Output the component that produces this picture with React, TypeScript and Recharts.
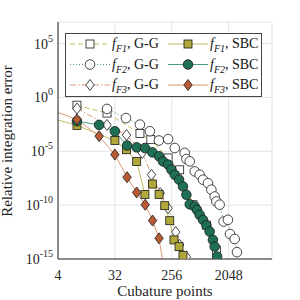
import { LineChart, Line, XAxis, YAxis, CartesianGrid, Legend } from 'recharts';

// cubature points / relative error
const ggF1N = [8, 24, 80, 119, 224, 342, 557, 910, 1308];
const ggF1Err = [1.9e-1, 3.5e-2, 4.4e-4, 1.2e-4, 2.4e-6, 1.9e-7, 1.1e-10, 1.4e-12, 6.8e-15];

const ggF2N = [24, 48, 80, 115, 160, 224, 286, 411, 437, 494, 593, 710, 803, 962, 1090, 1229, 1308, 1474, 1706, 1997, 2150, 2554, 2779];
const ggF2Err = [8.5e-2, 1.2e-2, 3.0e-3, 7.2e-4, 1.0e-4, 1.35e-4, 2.0e-5, 7.1e-6, 1.9e-6, 1.15e-6, 1.35e-7, 6.6e-8, 2.3e-8, 1.1e-8, 2.7e-9, 6.3e-10, 2.2e-10, 1.1e-10, 3.0e-12, 4.3e-12, 2.1e-13, 7.2e-14, 4.3e-15];

const ggF3N = [8, 24, 49, 87, 122, 168, 224, 296, 342, 437];
const ggF3Err = [9.3e-2, 2.8e-3, 3.2e-4, 7.1e-6, 6.6e-8, 1.3e-9, 5.2e-11, 3.2e-13, 2.0e-14, 1.6e-15];

const sbcF1N = [2, 8, 32, 49, 71, 96, 126, 161, 198, 238, 278, 334, 386];
const sbcF1Err = [2.5e-2, 2.5e-3, 9.8e-5, 1.4e-5, 1.1e-6, 1.0e-9, 9.1e-9, 1.0e-9, 8.9e-11, 3.6e-12, 5.9e-14, 1.4e-14, 2.2e-15];

const sbcF2N = [8, 18, 32, 50, 71, 96, 126, 161, 186, 224, 253, 286, 334, 386, 437, 494, 593, 644, 710, 803, 910, 1024, 1153, 1229, 1345];
const sbcF2Err = [6.2e-3, 2.8e-3, 7.2e-4, 3.4e-5, 2.3e-5, 2.0e-5, 7.9e-6, 3.4e-6, 1.15e-6, 5.8e-7, 1.95e-7, 6.6e-8, 2.3e-8, 5.4e-9, 9.1e-10, 1.2e-10, 7.4e-11, 3.6e-11, 1.26e-11, 4.3e-12, 1.3e-12, 3.5e-13, 5.9e-14, 1.4e-14, 1.7e-15];

const sbcF3N = [2, 8, 18, 32, 50, 71, 97, 127, 161, 198];
const sbcF3Err = [1.8e-1, 8.9e-3, 2.5e-4, 4.9e-6, 3.9e-8, 1.5e-9, 1.1e-10, 3.7e-12, 8.3e-14, 5e-17];

const xTicks = [4, 32, 256, 2048];
const yTicks = [1e-15, 1e-10, 1e-5, 1, 1e5];

const zip = (n: number[], e: number[]) => n.map((v, i) => ({ n: v, err: e[i] }));

const SERIF = '"Liberation Serif", "DejaVu Serif", serif';
const INK = '#262626';

const C1 = '#c4bd62';
const C2 = '#4a9a84';
const C3 = '#dc9a76';

type Kind = 'square' | 'circle' | 'diamond';

const marker = (kind: Kind, cx: number, cy: number, fill: string, key?: string | number) => {
  const common = { fill, stroke: '#1a1a1a', strokeWidth: 0.8 };
  if (kind === 'square') return <rect key={key} x={cx - 4} y={cy - 4} width={8} height={8} {...common} />;
  if (kind === 'circle') return <circle key={key} cx={cx} cy={cy} r={4.8} {...common} />;
  return <path key={key} d={`M${cx},${cy - 5.5}L${cx + 4.2},${cy}L${cx},${cy + 5.5}L${cx - 4.2},${cy}Z`} {...common} />;
};

const series = [
  { id: 'ggF1', data: zip(ggF1N, ggF1Err), color: C1, dash: '5 3', kind: 'square' as Kind, fill: '#ffffff', sub: 'F1', tag: 'G-G' },
  { id: 'ggF2', data: zip(ggF2N, ggF2Err), color: C2, dash: '1 2', kind: 'circle' as Kind, fill: '#ffffff', sub: 'F2', tag: 'G-G' },
  { id: 'ggF3', data: zip(ggF3N, ggF3Err), color: C3, dash: '6 2 1.5 2', kind: 'diamond' as Kind, fill: '#ffffff', sub: 'F3', tag: 'G-G' },
  { id: 'sbcF1', data: zip(sbcF1N, sbcF1Err), color: C1, dash: undefined, kind: 'square' as Kind, fill: '#b0a83a', sub: 'F1', tag: 'SBC' },
  { id: 'sbcF2', data: zip(sbcF2N, sbcF2Err), color: C2, dash: undefined, kind: 'circle' as Kind, fill: '#1f6f56', sub: 'F2', tag: 'SBC' },
  { id: 'sbcF3', data: zip(sbcF3N, sbcF3Err), color: C3, dash: undefined, kind: 'diamond' as Kind, fill: '#b95b32', sub: 'F3', tag: 'SBC' },
];

const YTick = ({ y, payload }: any) => {
  const exp = Math.round(Math.log10(payload.value));
  return (
    <text x={53} y={y + 5} textAnchor="end" fontFamily={SERIF} fontSize={14} fill={INK}>
      10<tspan dy={-7} fontSize={10}>{exp}</tspan>
    </text>
  );
};

const XTick = ({ x, payload }: any) => (
  <text x={x} y={280} textAnchor="middle" fontFamily={SERIF} fontSize={14} fill={INK}>
    {payload.value}
  </text>
);

const LegendBox = () => (
  <svg width={197} height={64} style={{ display: 'block' }}>
    <rect x={0.5} y={0.5} width={196} height={63} fill="#fff" stroke="#444" strokeWidth={1} />
    {series.map((s, i) => {
      const col = i < 3 ? 0 : 1;
      const row = i % 3;
      const cy = 11 + row * 20.5;
      const x0 = col === 0 ? 5 : 103;
      return (
        <g key={s.id}>
          <line x1={x0} x2={x0 + 40} y1={cy} y2={cy} stroke={s.color} strokeWidth={1.2} strokeDasharray={s.dash} />
          {marker(s.kind, x0 + 20, cy, s.fill)}
          <text x={x0 + 42} y={cy + 4} fontFamily={SERIF} fontSize={14} fill="#111">
            <tspan fontStyle="italic">f</tspan>
            <tspan fontStyle="italic" fontSize={10} dy={4}>{s.sub}</tspan>
            <tspan dy={-4}>, {s.tag}</tspan>
          </text>
        </g>
      );
    })}
  </svg>
);

export default function App() {
  return (
    <div style={{ position: 'absolute', left: 0, top: 0, width: 300, height: 300, background: '#fff' }}>
      <LineChart width={300} height={300} margin={{ top: 22, right: 28, left: 8, bottom: 0 }}>
        <CartesianGrid stroke="#e3e3e3" strokeWidth={1} />
        <XAxis
          dataKey="n"
          type="number"
          scale="log"
          domain={[4, 10000]}
          allowDataOverflow
          ticks={xTicks}
          height={41}
          tick={<XTick />}
          tickLine={false}
          stroke={INK}
          label={{
            content: () => (
              <text x={165} y={296} textAnchor="middle" fontFamily={SERIF} fontSize={15} fill={INK}>
                Cubature points
              </text>
            ),
          }}
        />
        <YAxis
          dataKey="err"
          type="number"
          scale="log"
          domain={[1e-15, 1e7]}
          allowDataOverflow
          ticks={yTicks}
          width={50}
          tick={<YTick />}
          tickLine={false}
          stroke={INK}
          label={{
            content: () => (
              <text x={12} y={141} transform="rotate(-90 12 141)" textAnchor="middle" fontFamily={SERIF} fontSize={15} fill={INK}>
                Relative integration error
              </text>
            ),
          }}
        />
        <Legend
          layout="horizontal"
          verticalAlign="middle"
          align="center"
          content={() => <LegendBox />}
          wrapperStyle={{ left: 65, top: 33, width: 197, height: 64 }}
        />
        {series.map((s) => (
          <Line
            key={s.id}
            data={s.data}
            dataKey="err"
            stroke={s.color}
            strokeWidth={1}
            strokeDasharray={s.dash}
            isAnimationActive={false}
            legendType="none"
            dot={(p: any) => marker(s.kind, p.cx, p.cy, s.fill, `${s.id}-${p.index}`)}
            activeDot={false}
          />
        ))}
      </LineChart>
    </div>
  );
}
